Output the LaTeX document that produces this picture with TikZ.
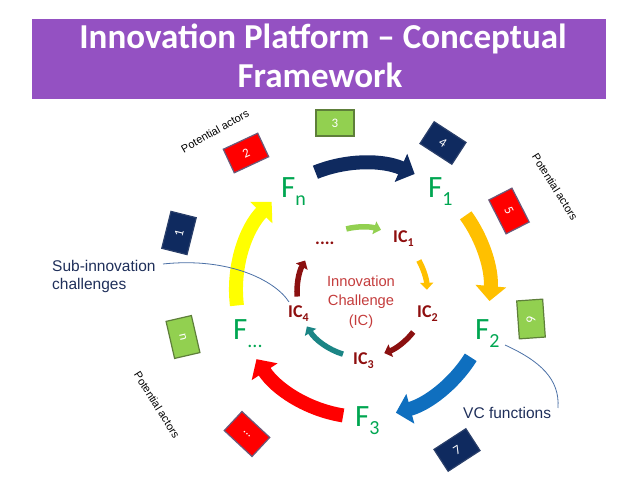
\documentclass[tikz,border=0pt]{standalone}
\usepackage{fontspec}
\setmainfont{Carlito}
\newfontfamily\arialf{Liberation Sans}
\usetikzlibrary{arrows.meta}
\definecolor{ttl}{HTML}{9451C2}
\definecolor{navyc}{HTML}{0F2A5F}
\definecolor{bluec}{HTML}{0F6FBF}
\definecolor{goldc}{HTML}{FFC000}
\definecolor{yelc}{HTML}{FFFF00}
\definecolor{redc}{HTML}{FF0000}
\definecolor{fgreen}{HTML}{00A651}
\definecolor{lgreen}{HTML}{92D050}
\definecolor{tealc}{HTML}{1B8585}
\definecolor{dred}{HTML}{8B1010}
\definecolor{ictext}{HTML}{8E0E0E}
\definecolor{cred}{HTML}{C43C3C}
\definecolor{lbl}{HTML}{1F2F5A}
\definecolor{callout}{HTML}{4A6FA5}
\definecolor{gbord}{HTML}{5E7F3A}
\definecolor{rbord}{HTML}{6A5A7A}
\definecolor{nbord}{HTML}{2A3F6A}
\tikzset{
  outerarr/.style={line width=14pt,-{Triangle[width=30pt,length=15pt]}},
  innerarr/.style={line width=5.5pt,-{Triangle[width=13pt,length=7pt]}},
  actor/.style={draw,line width=1.2pt,minimum width=38pt,minimum height=26pt,inner sep=0pt,text=white,font=\fontsize{13}{13}\selectfont},
  gbox/.style={actor,fill=lgreen,draw=gbord},
  rbox/.style={actor,fill=redc,draw=rbord},
  nbox/.style={actor,fill=navyc,draw=nbord},
  flab/.style={anchor=base west,inner sep=0pt,text=fgreen,font=\fontsize{31}{31}\selectfont},
  iclab/.style={anchor=base west,inner sep=0pt,text=ictext,font=\bfseries\fontsize{18}{18}\selectfont},
  potact/.style={inner sep=0pt,font=\arialf\fontsize{11}{11}\selectfont},
  note/.style={inner sep=0pt,text=lbl,font=\arialf\fontsize{15.5}{18}\selectfont},
  cline/.style={draw=callout,line width=0.8pt}
}
\newcommand{\fsub}[1]{{\fontsize{20}{20}\selectfont\raisebox{-8pt}{#1}}}
\newcommand{\icsub}[1]{{\fontsize{12}{12}\selectfont\raisebox{-4pt}{#1}}}
\begin{document}
\begin{tikzpicture}[x=1pt,y=1pt]
\useasboundingbox (0,0) rectangle (638,479);
% title
\node (bar) [fill=ttl,minimum width=574pt,minimum height=80pt,inner sep=0pt] at (319,420) {};
\node (t1) [anchor=base,inner sep=0pt,text=white,font=\bfseries\fontsize{35}{35}\selectfont] at (323,430) {Innovation Platform – Conceptual};
\node (t2) [anchor=base,inner sep=0pt,text=white,font=\bfseries\fontsize{35}{35}\selectfont] at (320,391) {Framework};
% centres
\coordinate (C) at (363,189);
\coordinate (c) at (362,187);
% outer arrows
\draw[outerarr,navyc] ([shift={(112:127)}]C) arc[start angle=112,end angle=66,radius=127];
\draw[outerarr,goldc] ([shift={(36:127)}]C) arc[start angle=36,end angle=-5,radius=127];
\draw[outerarr,bluec] ([shift={(-32:127)}]C) arc[start angle=-32,end angle=-75,radius=127];
\draw[outerarr,redc] ([shift={(-99:127)}]C) arc[start angle=-99,end angle=-147,radius=127];
\draw[outerarr,yelc] ([shift={(187:127)}]C) arc[start angle=187,end angle=136,radius=127];
% inner arrows
\draw[innerarr,lgreen] ([shift={(104:65)}]c) arc[start angle=104,end angle=73,radius=65];
\draw[innerarr,goldc] ([shift={(29:65)}]c) arc[start angle=29,end angle=2,radius=65];
\draw[innerarr,dred] ([shift={(-38:65)}]c) arc[start angle=-38,end angle=-70,radius=65];
\draw[innerarr,tealc] ([shift={(253:65)}]c) arc[start angle=253,end angle=212,radius=65];
\draw[innerarr,dred] ([shift={(184:65)}]c) arc[start angle=184,end angle=151,radius=65];
% F labels
\node (fn) [flab] at (281,281) {F\fsub{n}};
\node (f1) [flab] at (428,281) {F\fsub{1}};
\node (f2) [flab] at (475,139) {F\fsub{2}};
\node (f3) [flab] at (355,52) {F\fsub{3}};
\node (fd) [flab] at (233,139) {F\fsub{...}};
% IC labels
\node (ic1) [iclab] at (393,236) {IC\icsub{1}};
\node (ic2) [iclab] at (417,161) {IC\icsub{2}};
\node (ic3) [iclab] at (353,114) {IC\icsub{3}};
\node (ic4) [iclab] at (288,161) {IC\icsub{4}};
\node (icd) [iclab] at (315,234) {....};
\node (core) [align=center,inner sep=0pt,text=cred,font=\arialf\fontsize{14.7}{19.5}\selectfont] at (361,177) {Innovation\\Challenge\\(IC)};
% actor boxes
\node (b3) [gbox] at (335,356) {3};
\node (b2) [rbox,rotate=25] at (246,326) {2};
\node (b4) [nbox,rotate=-33] at (443,336) {4};
\node (b5) [rbox,rotate=-63] at (509,268) {5};
\node (b6) [gbox,rotate=-86] at (531,160) {6};
\node (b7) [nbox,rotate=33] at (457,29) {7};
\node (bd) [rbox,rotate=-43] at (247,45) {...};
\node (bn) [gbox,rotate=-77] at (183,142) {n};
\node (b1) [nbox,rotate=76] at (179,246) {1};
% potential actors
\node (pa1) [potact,rotate=29.5] at (215,348) {Potential actors};
\node (pa2) [potact,rotate=-58] at (555,292) {Potential actors};
\node (pa3) [potact,rotate=-58] at (157,74) {Potential actors};
% notes
\node (sub) [note,anchor=west,align=left] at (52,203) {Sub-innovation\\challenges};
\node (vc) [note,anchor=west] at (463,66) {VC functions};
\coordinate (subs) at (163,215);
\coordinate (sube) at (289,177);
\coordinate (vcs) at (505,134);
\coordinate (vce) at (558,71);
\draw[cline] (subs) .. controls (228,222) and (275,199) .. (sube);
\draw[cline] (vcs) .. controls (540,118) and (560,100) .. (vce);
\end{tikzpicture}
\end{document}
